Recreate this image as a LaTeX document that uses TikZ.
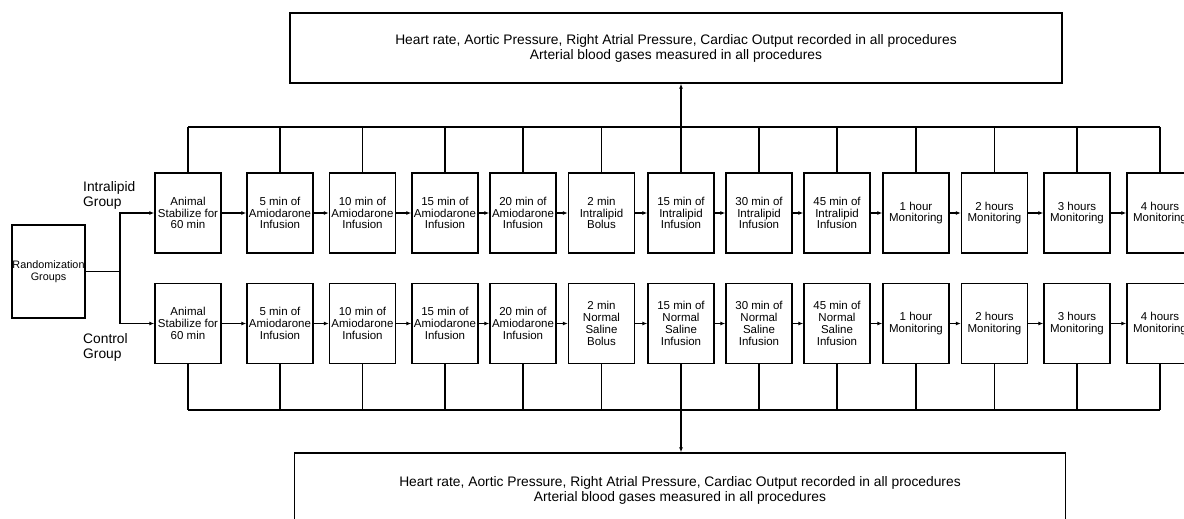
\documentclass[tikz,border=0pt]{standalone}
\usepackage{fontspec}
\setmainfont{Liberation Sans}
\usetikzlibrary{arrows.meta}

\tikzset{
  stage/.style={draw, line width=1.4pt, minimum width=66pt, minimum height=80pt,
    inner sep=0pt, align=center, font=\fontsize{11.5}{11.8}\selectfont},
  recbox/.style={draw, line width=1.4pt, minimum height=70pt, align=center,
    font=\fontsize{13.8}{15}\selectfont},
  grouplabel/.style={anchor=west, align=left, inner sep=0pt, font=\fontsize{13.8}{15}\selectfont},
  link/.style={line width=1.2pt},
  flow/.style={line width=1.2pt, -{Latex[length=5pt,width=4pt]}},
}

\begin{document}
\begin{tikzpicture}[x=1pt,y=-1pt]
\useasboundingbox (0,0) rectangle (1184,519);
\clip (0,0) rectangle (1184,519);

%記録の枠
\node[recbox, minimum width=772pt] (rectop) at (676,48)
  {Heart rate, Aortic Pressure, Right Atrial Pressure, Cardiac Output recorded in all procedures\\
   Arterial blood gases measured in all procedures};
\node[recbox, minimum width=771pt, minimum height=74pt] (recbot) at (680,490)
  {Heart rate, Aortic Pressure, Right Atrial Pressure, Cardiac Output recorded in all procedures\\
   Arterial blood gases measured in all procedures};

%無作為化
\node[stage, minimum width=73pt, minimum height=93pt, font=\fontsize{10.8}{11.5}\selectfont]
  (rand) at (48.5,271.5) {Randomization\\Groups};
\node[grouplabel] (lipid) at (83,195.5) {Intralipid\\Group};
\node[grouplabel] (control) at (83,347) {Control\\Group};

%各段階
\foreach \i/\x/\upper/\lower in {
  1/188/{Animal\\Stabilize for\\60 min}/{Animal\\Stabilize for\\60 min},
  2/280/{5 min of\\Amiodarone\\Infusion}/{5 min of\\Amiodarone\\Infusion},
  3/362.5/{10 min of\\Amiodarone\\Infusion}/{10 min of\\Amiodarone\\Infusion},
  4/445/{15 min of\\Amiodarone\\Infusion}/{15 min of\\Amiodarone\\Infusion},
  5/523/{20 min of\\Amiodarone\\Infusion}/{20 min of\\Amiodarone\\Infusion},
  6/601.5/{2 min\\Intralipid\\Bolus}/{2 min\\Normal\\Saline\\Bolus},
  7/681/{15 min of\\Intralipid\\Infusion}/{15 min of\\Normal\\Saline\\Infusion},
  8/759/{30 min of\\Intralipid\\Infusion}/{30 min of\\Normal\\Saline\\Infusion},
  9/837/{45 min of\\Intralipid\\Infusion}/{45 min of\\Normal\\Saline\\Infusion},
  10/916/{1 hour\\Monitoring}/{1 hour\\Monitoring},
  11/994.5/{2 hours\\Monitoring}/{2 hours\\Monitoring},
  12/1077/{3 hours\\Monitoring}/{3 hours\\Monitoring},
  13/1160/{4 hours\\Monitoring}/{4 hours\\Monitoring}}
{
  \node[stage] (a\i) at (\x,213) {\upper};
  \node[stage] (b\i) at (\x,323.5) {\lower};
}

%分岐
\coordinate (split) at (120,271.5);
\draw[link] (rand.east) -- (split);
\draw[flow] (split) |- (a1.west);
\draw[flow] (split) |- (b1.west);

%段階の矢印
\foreach \i [remember=\i as \p (initially 1)] in {2,...,13} {
  \draw[flow] (a\p.east) -- (a\i.west);
  \draw[flow] (b\p.east) -- (b\i.west);
}

%上下の線
\coordinate (topbus) at (0,127);
\coordinate (botbus) at (0,410);
\foreach \i in {1,...,13} {
  \draw[link] (a\i.north) -- (a\i.north |- topbus);
  \draw[link] (b\i.south) -- (b\i.south |- botbus);
}
\draw[link] (a1.north |- topbus) -- (a13.north |- topbus);
\draw[link] (b1.south |- botbus) -- (b13.south |- botbus);
\draw[flow] (a7.north |- topbus) -- (a7.north |- rectop.south);
\draw[flow] (b7.south |- botbus) -- (b7.south |- recbot.north);
\end{tikzpicture}
\end{document}
